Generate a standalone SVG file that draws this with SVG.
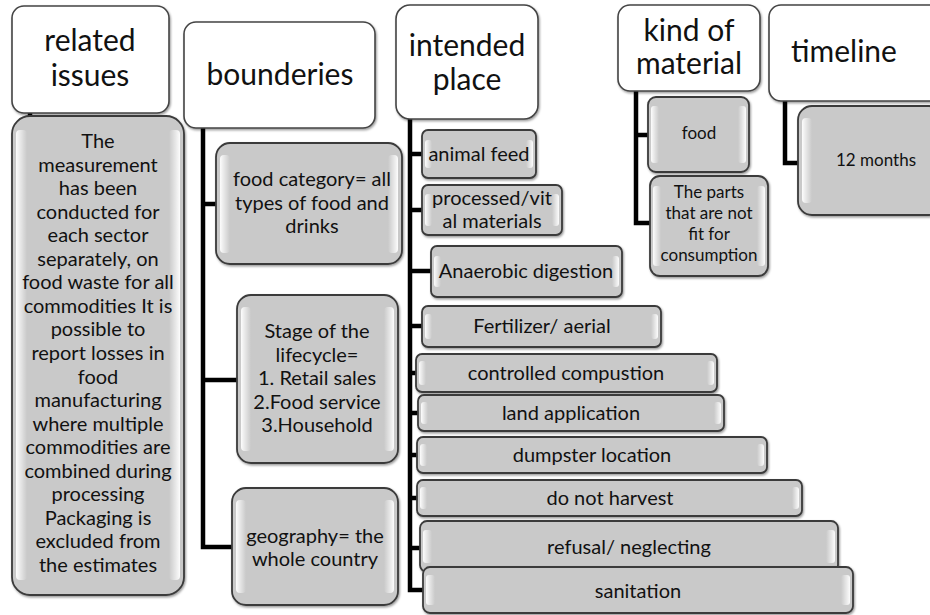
<svg xmlns="http://www.w3.org/2000/svg" width="930" height="615" viewBox="0 0 930 615">
<defs>
<style>
text{font-family:Lato,"Liberation Sans",sans-serif;fill:#111;text-anchor:middle}
.h{fill:#fff;stroke:#444;stroke-width:1.6;filter:url(#sh)}
.ht{font-size:30px}
.c{fill:#c9c9c9;stroke:#3a3a3a;stroke-width:1.8;filter:url(#sh)}
.hl{fill:url(#gl)}
.hr{fill:url(#gr)}
.t{font-size:20px}
.s{font-size:17px}
.ln{fill:none;stroke:#000;stroke-width:4.5;stroke-linejoin:miter}
</style>
<filter id="sh" x="-10%" y="-10%" width="130%" height="130%">
<feDropShadow dx="1" dy="1.5" stdDeviation="1.2" flood-color="#000" flood-opacity="0.4"/>
</filter>
<linearGradient id="gl" x1="0" y1="0" x2="1" y2="0">
<stop offset="0" stop-color="#fff" stop-opacity="0.95"/>
<stop offset="1" stop-color="#fff" stop-opacity="0"/>
</linearGradient>
<linearGradient id="gr" x1="1" y1="0" x2="0" y2="0">
<stop offset="0" stop-color="#fff" stop-opacity="0.95"/>
<stop offset="1" stop-color="#fff" stop-opacity="0"/>
</linearGradient>
</defs>

<g id="connectors">
<path class="ln" d="M30 111 V118"/>
<path class="ln" d="M203 128 V547 H233 M203 204 H217 M203 380 H238"/>
<path class="ln" d="M410 119 V590 H424 M410 154 H422 M410 210 H423 M410 271 H432 M410 326 H423 M410 373 H417 M410 413 H419 M410 455 H418 M410 498 H418 M410 548 H421"/>
<path class="ln" d="M636 91 V223 H651 M636 135 H649"/>
<path class="ln" d="M785 101 V163 H799"/>
</g>

<g id="related-issues">
<rect class="h" x="12" y="6" width="157" height="107" rx="12"/>
<text class="ht" x="90" y="51">related</text>
<text class="ht" x="90" y="86">issues</text>
</g>
<g id="related-issues-detail">
<rect class="c" x="12" y="116" width="172" height="479" rx="18"/>
<rect class="hl" x="16" y="130" width="11" height="450" rx="4"/>
<rect class="hr" x="169" y="130" width="11" height="450" rx="4"/>
<text class="t" x="98" y="148"><tspan x="98">The</tspan><tspan x="98" dy="23.55">measurement</tspan><tspan x="98" dy="23.55">has been</tspan><tspan x="98" dy="23.55">conducted for</tspan><tspan x="98" dy="23.55">each sector</tspan><tspan x="98" dy="23.55">separately, on</tspan><tspan x="98" dy="23.55">food waste for all</tspan><tspan x="98" dy="23.55">commodities It is</tspan><tspan x="98" dy="23.55">possible to</tspan><tspan x="98" dy="23.55">report losses in</tspan><tspan x="98" dy="23.55">food</tspan><tspan x="98" dy="23.55">manufacturing</tspan><tspan x="98" dy="23.55">where multiple</tspan><tspan x="98" dy="23.55">commodities are</tspan><tspan x="98" dy="23.55">combined during</tspan><tspan x="98" dy="23.55">processing</tspan><tspan x="98" dy="23.55">Packaging is</tspan><tspan x="98" dy="23.55">excluded from</tspan><tspan x="98" dy="23.55">the estimates</tspan></text>
</g>

<g id="bounderies">
<rect class="h" x="184" y="22" width="191" height="106" rx="12"/>
<text class="ht" x="280" y="85">bounderies</text>
</g>
<g id="food-category">
<rect class="c" x="216" y="143" width="186" height="121" rx="14"/>
<rect class="hl" x="220" y="155" width="10" height="98" rx="4"/>
<rect class="hr" x="388" y="155" width="10" height="98" rx="4"/>
<text class="t" x="312" y="186"><tspan x="312">food category= all</tspan><tspan x="312" dy="23.5">types of food and</tspan><tspan x="312" dy="23.5">drinks</tspan></text>
</g>
<g id="stage-lifecycle">
<rect class="c" x="237" y="295" width="161" height="168" rx="14"/>
<rect class="hl" x="241" y="307" width="10" height="144" rx="4"/>
<rect class="hr" x="384" y="307" width="10" height="144" rx="4"/>
<text class="t" x="317" y="338"><tspan x="317">Stage of the</tspan><tspan x="317" dy="23.5">lifecycle=</tspan><tspan x="317" dy="23.5">1. Retail sales</tspan><tspan x="317" dy="23.5">2.Food service</tspan><tspan x="317" dy="23.5">3.Household</tspan></text>
</g>
<g id="geography">
<rect class="c" x="232" y="488" width="166" height="117" rx="14"/>
<rect class="hl" x="236" y="500" width="10" height="93" rx="4"/>
<rect class="hr" x="384" y="500" width="10" height="93" rx="4"/>
<text class="t" x="315" y="543"><tspan x="315">geography= the</tspan><tspan x="315" dy="22.5">whole country</tspan></text>
</g>

<g id="intended-place">
<rect class="h" x="396" y="5" width="142" height="114" rx="14"/>
<text class="ht" x="467" y="56">intended</text>
<text class="ht" x="467" y="90">place</text>
</g>
<g id="animal-feed">
<rect class="c" x="422" y="130" width="114" height="48" rx="6"/>
<rect class="hl" x="425" y="140" width="7" height="28" rx="3"/>
<rect class="hr" x="526" y="140" width="7" height="28" rx="3"/>
<text class="t" x="479" y="161">animal feed</text>
</g>
<g id="processed-vital">
<rect class="c" x="422" y="185" width="140" height="50" rx="6"/>
<rect class="hl" x="425" y="194" width="7" height="32" rx="3"/>
<rect class="hr" x="552" y="194" width="7" height="32" rx="3"/>
<text class="t" x="492" y="205"><tspan x="492">processed/vit</tspan><tspan x="492" dy="23">al materials</tspan></text>
</g>
<g id="anaerobic-digestion">
<rect class="c" x="431" y="246" width="191" height="51" rx="6"/>
<rect class="hl" x="434" y="256" width="7" height="31" rx="3"/>
<rect class="hr" x="612" y="256" width="7" height="31" rx="3"/>
<text class="t" x="526" y="278">Anaerobic digestion</text>
</g>
<g id="fertilizer-aerial">
<rect class="c" x="422" y="306" width="239" height="41" rx="6"/>
<rect class="hl" x="425" y="314" width="7" height="25" rx="3"/>
<rect class="hr" x="651" y="314" width="7" height="25" rx="3"/>
<text class="t" x="542" y="333">Fertilizer/ aerial</text>
</g>
<g id="controlled-compustion">
<rect class="c" x="416" y="354" width="301" height="38" rx="6"/>
<rect class="hl" x="419" y="361" width="7" height="24" rx="3"/>
<rect class="hr" x="707" y="361" width="7" height="24" rx="3"/>
<text class="t" x="566" y="380">controlled compustion</text>
</g>
<g id="land-application">
<rect class="c" x="418" y="395" width="306" height="36" rx="6"/>
<rect class="hl" x="421" y="402" width="7" height="22" rx="3"/>
<rect class="hr" x="714" y="402" width="7" height="22" rx="3"/>
<text class="t" x="571" y="420">land application</text>
</g>
<g id="dumpster-location">
<rect class="c" x="417" y="437" width="350" height="36" rx="6"/>
<rect class="hl" x="420" y="444" width="7" height="22" rx="3"/>
<rect class="hr" x="757" y="444" width="7" height="22" rx="3"/>
<text class="t" x="592" y="462">dumpster location</text>
</g>
<g id="do-not-harvest">
<rect class="c" x="417" y="480" width="385" height="36" rx="6"/>
<rect class="hl" x="420" y="487" width="7" height="22" rx="3"/>
<rect class="hr" x="792" y="487" width="7" height="22" rx="3"/>
<text class="t" x="610" y="505">do not harvest</text>
</g>
<g id="refusal-neglecting">
<rect class="c" x="420" y="521" width="418" height="51" rx="7"/>
<rect class="hl" x="423" y="530" width="9" height="33" rx="3"/>
<rect class="hr" x="826" y="530" width="9" height="33" rx="3"/>
<text class="t" x="629" y="554">refusal/ neglecting</text>
</g>
<g id="sanitation">
<rect class="c" x="423" y="567" width="430" height="46" rx="7"/>
<rect class="hl" x="426" y="575" width="9" height="30" rx="3"/>
<rect class="hr" x="841" y="575" width="9" height="30" rx="3"/>
<text class="t" x="638" y="598">sanitation</text>
</g>

<g id="kind-of-material">
<rect class="h" x="618" y="5" width="142" height="86" rx="12"/>
<text class="ht" x="689" y="41">kind of</text>
<text class="ht" x="689" y="74">material</text>
</g>
<g id="food">
<rect class="c" x="648" y="97" width="101" height="75" rx="8"/>
<rect class="hl" x="651" y="106" width="8" height="57" rx="3"/>
<rect class="hr" x="738" y="106" width="8" height="57" rx="3"/>
<text class="s" x="699" y="139">food</text>
</g>
<g id="parts-not-fit">
<rect class="c" x="650" y="176" width="118" height="100" rx="10"/>
<rect class="hl" x="653" y="186" width="8" height="80" rx="3"/>
<rect class="hr" x="757" y="186" width="8" height="80" rx="3"/>
<text class="s" x="709" y="198"><tspan x="709">The parts</tspan><tspan x="709" dy="21">that are not</tspan><tspan x="709" dy="21">fit for</tspan><tspan x="709" dy="21">consumption</tspan></text>
</g>

<g id="timeline">
<rect class="h" x="769" y="5" width="175" height="96" rx="12"/>
<text class="ht" x="844" y="62">timeline</text>
</g>
<g id="twelve-months">
<rect class="c" x="798" y="106" width="145" height="109" rx="14"/>
<rect class="hl" x="802" y="118" width="10" height="85" rx="4"/>
<text class="s" x="876" y="166">12 months</text>
</g>
</svg>
